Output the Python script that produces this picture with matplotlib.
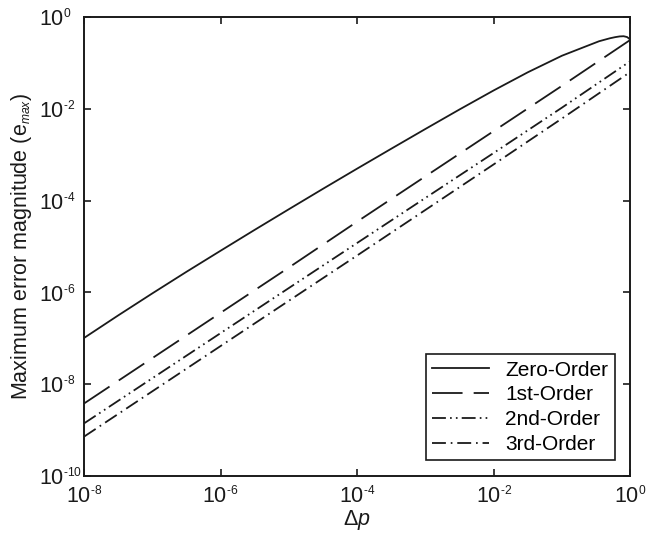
import numpy as np
import matplotlib
matplotlib.use("Agg")
import matplotlib.pyplot as plt
import matplotlib._mathtext as mathtext_internals
from matplotlib.ticker import FuncFormatter

plt.rcParams['font.family'] = ['Liberation Sans', 'DejaVu Sans']
plt.rcParams['mathtext.fontset'] = 'custom'
plt.rcParams['mathtext.rm'] = 'Liberation Sans'
plt.rcParams['mathtext.it'] = 'Liberation Sans:italic'
plt.rcParams['lines.scale_dashes'] = False
# the original's exponents are about half the size of the base "10"
mathtext_internals.SHRINK_FACTOR = 0.56

# step size (x) and max error
dp_zero = [1e-8, 3.16e-8, 1e-7, 3.16e-7, 1e-6, 3.16e-6, 1e-5, 3.16e-5, 1e-4, 3.16e-4,
           1e-3, 3.16e-3, 1e-2, 3.16e-2, 0.1, 0.2, 0.35, 0.5, 0.6, 0.7, 0.8, 0.9, 1.0]
err_zero = [1.02e-7, 3.16e-7, 9.55e-7, 2.82e-6, 8.13e-6, 2.32e-5, 6.53e-5, 1.82e-4,
            5.01e-4, 1.36e-3, 3.67e-3, 9.77e-3, 2.54e-2, 6.31e-2, 0.145, 0.217, 0.30,
            0.347, 0.368, 0.382, 0.386, 0.37, 0.327]

dp_ord = [1e-8, 1e-7, 1e-6, 1e-5, 1e-4, 1e-3, 1e-2, 1e-1, 1.0]
err_first = [3.8e-9, 3.7e-8, 3.6e-7, 3.5e-6, 3.5e-5, 3.4e-4, 3.3e-3, 3.2e-2, 0.32]
err_second = [1.4e-9, 1.35e-8, 1.3e-7, 1.25e-6, 1.2e-5, 1.15e-4, 1.1e-3, 1.07e-2, 0.11]
err_third = [7.2e-10, 7.0e-9, 6.8e-8, 6.6e-7, 6.4e-6, 6.3e-5, 6.2e-4, 6.2e-3, 0.064]

labels = ['Zero-Order', '1st-Order', '2nd-Order', '3rd-Order']


def pow_label(v, pos):
    e = int(round(np.log10(v)))
    if e < 0:
        return r'$10^{\text{-%d}}$' % (-e)
    return r'$10^{%d}$' % e


fig = plt.figure(figsize=(6.62, 5.39), dpi=100)
ax = fig.add_axes([0.127, 0.117, 0.825, 0.851])

ink = '#1a1a1a'
lw = 1.3
ax.loglog(dp_zero, err_zero, color=ink, lw=lw, label=labels[0])
ax.loglog(dp_ord, err_first, color=ink, lw=lw, dashes=(22, 8), label=labels[1])
ax.loglog(dp_ord, err_second, color=ink, lw=lw,
          dashes=(10, 3, 1.2, 3, 1.2, 3), label=labels[2])
ax.loglog(dp_ord, err_third, color=ink, lw=lw,
          dashes=(10, 3.5, 1.2, 3.5), label=labels[3])

ax.set_xlim(1e-8, 1e0)
ax.set_ylim(1e-10, 1e0)
ax.set_xticks([1e-8, 1e-6, 1e-4, 1e-2, 1e0])
ax.set_yticks([1e-10, 1e-8, 1e-6, 1e-4, 1e-2, 1e0])
ax.xaxis.set_major_formatter(FuncFormatter(pow_label))
ax.yaxis.set_major_formatter(FuncFormatter(pow_label))
ax.minorticks_off()
ax.tick_params(which='both', direction='in', top=True, right=True,
               length=5, width=1.2, labelsize=15.5, colors=ink)
ax.tick_params(axis='x', pad=7)
# y labels line up on the "10", exponent hangs to the right
ax.tick_params(axis='y', pad=32.5)
for t in ax.get_yticklabels():
    t.set_horizontalalignment('left')
for s in ax.spines.values():
    s.set_linewidth(1.4)
    s.set_color(ink)

ax.set_xlabel(r'$\Delta \mathit{p}$', fontsize=15.5, color=ink, labelpad=0)
ax.set_ylabel(r'Maximum error magnitude ($\mathrm{e}_{\mathit{max}}$)', fontsize=15.5,
              color=ink, labelpad=3.5)

leg = ax.legend(loc='lower right', fontsize=15, handlelength=2.7, labelspacing=0.28,
                borderaxespad=0.75, borderpad=0.3, handletextpad=0.8, fancybox=False,
                framealpha=1, edgecolor=ink)
leg.get_frame().set_linewidth(1.2)

fig.savefig('out.png', dpi=100)
